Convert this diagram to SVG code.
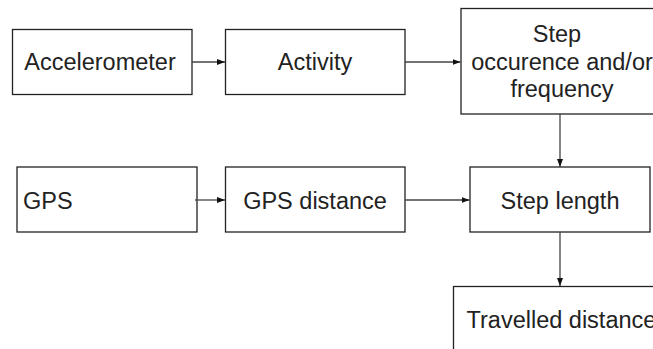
<svg xmlns="http://www.w3.org/2000/svg" width="653" height="349" viewBox="0 0 653 349">
<style>
.box{fill:#fff;stroke:#222;stroke-width:1.3}
.t{font-family:"Liberation Sans",Arial,sans-serif;font-size:23.5px;fill:#222}
.c{text-anchor:middle}
.ln{stroke:#444;stroke-width:1.3;fill:none;marker-end:url(#ah)}
</style>
<defs>
<marker id="ah" viewBox="0 0 8 6" refX="8" refY="3" markerWidth="8" markerHeight="6" markerUnits="userSpaceOnUse" orient="auto">
<path d="M0,0 L8,3 L0,6 Z" fill="#111"/>
</marker>
</defs>
<rect width="653" height="349" fill="#fff"/>
<g id="accelerometer"><rect class="box" x="12.5" y="29.5" width="179.5" height="65"/><text class="t c" x="100" y="70">Accelerometer</text></g>
<g id="activity"><rect class="box" x="225.5" y="29.5" width="179.5" height="65"/><text class="t c" x="315" y="69.5">Activity</text></g>
<g id="step"><rect class="box" x="461" y="8.5" width="200" height="105.5"/><text class="t c" x="557" y="42">Step</text><text class="t c" x="562" y="70">occurence and/or</text><text class="t c" x="562" y="97">frequency</text></g>
<g id="gps"><rect class="box" x="17" y="167" width="180" height="65"/><text class="t" x="23" y="208.5">GPS</text></g>
<g id="gpsdistance"><rect class="box" x="225.5" y="167" width="179.5" height="65"/><text class="t c" x="315" y="208.5">GPS distance</text></g>
<g id="steplength"><rect class="box" x="470" y="167" width="180" height="65"/><text class="t c" x="560" y="208.5">Step length</text></g>
<g id="travelled"><rect class="box" x="453.5" y="286.5" width="220" height="80"/><text class="t" x="466.5" y="328">Travelled distance</text></g>
<g id="connectors">
<path class="ln" d="M192,62 H225"/>
<path class="ln" d="M405,62 H460.5"/>
<path class="ln" d="M560,114 V167"/>
<path class="ln" d="M195,200 H225"/>
<path class="ln" d="M405,200 H469.5"/>
<path class="ln" d="M560,232 V286"/>
</g>
</svg>
